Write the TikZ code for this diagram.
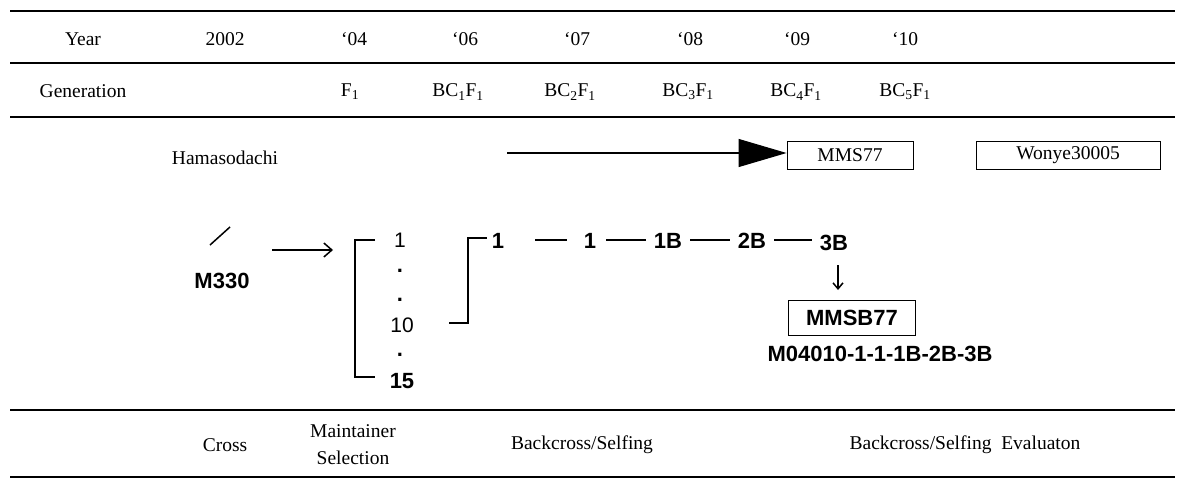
\documentclass[tikz,border=0pt]{standalone}
\usepackage{fontspec}
\setmainfont{Liberation Serif}
\setsansfont{Liberation Sans}
\usetikzlibrary{arrows.meta}
\begin{document}
\begin{tikzpicture}[x=1pt,y=-1pt,
  rule/.style={line width=1.3pt},
  serif/.style={font=\fontsize{19.5}{22}\selectfont, inner sep=0pt},
  sansb/.style={font=\sffamily\bfseries\fontsize{22}{24}\selectfont, inner sep=0pt},
  sansr/.style={font=\sffamily\fontsize{21}{24}\selectfont, inner sep=0pt},
  conn/.style={line width=1.6pt},
  lbox/.style={draw, line width=0.9pt, minimum height=28pt}]
\useasboundingbox (0,0) rectangle (1195,479);
% table rules
\draw[rule] (10,11) -- (1175,11);
\draw[rule] (10,63) -- (1175,63);
\draw[rule] (10,117) -- (1175,117);
\draw[rule] (10,410) -- (1175,410);
\draw[rule] (10,477) -- (1175,477);
% Year row
\node[serif] (yr) at (83,39) {Year};
\node[serif] (y02) at (225,39) {2002};
\node[serif] (y04) at (354,39) {`04};
\node[serif] (y06) at (465,39) {`06};
\node[serif] (y07) at (577,39) {`07};
\node[serif] (y08) at (690,39) {`08};
\node[serif] (y09) at (797,39) {`09};
\node[serif] (y10) at (905,39) {`10};
% Generation row
\node[serif] (gen) at (83,91) {Generation};
\node[serif] (g1) at (350,92) {F\textsubscript{1}};
\node[serif] (g2) at (458,92) {BC\textsubscript{1}F\textsubscript{1}};
\node[serif] (g3) at (570,92) {BC\textsubscript{2}F\textsubscript{1}};
\node[serif] (g4) at (688,92) {BC\textsubscript{3}F\textsubscript{1}};
\node[serif] (g5) at (796,92) {BC\textsubscript{4}F\textsubscript{1}};
\node[serif] (g6) at (905,92) {BC\textsubscript{5}F\textsubscript{1}};
% Hamasodachi line
\node[serif] (ham) at (225,158) {Hamasodachi};
\coordinate (arrS) at (507,153);
\node[serif, lbox, minimum width=126pt] (mms) at (850,155) {MMS77};
\node[serif, lbox, minimum width=184pt] (won) at (1068,155) {Wonye30005};
\draw[line width=1.1pt, -{Triangle[length=48pt,width=28pt]}] (arrS) -- (mms.west |- arrS);
% M330 cross
\coordinate (sl1) at (210,245);
\coordinate (sl2) at (230,227);
\draw[line width=1.5pt] (sl1) -- (sl2);
\node[sansb] (m330) at (222,281) {M330};
\coordinate (a1) at (272,250);
\coordinate (a2) at (333,250);
\draw[line width=1.5pt, -{Straight Barb[length=8pt,width=14pt,line width=1.5pt]}] (a1) -- (a2);
% bracket list
\node[sansr] (n1) at (400,240) {1};
\node[sansb, anchor=base] (d1) at (400,272) {.};
\node[sansb, anchor=base] (d2) at (400,301) {.};
\node[sansr] (n10) at (402,325) {10};
\node[sansb, anchor=base] (d3) at (400,356) {.};
\node[sansb] (n15) at (402,381) {15};
\coordinate (bt) at (375,240);
\coordinate (bb) at (375,377);
\draw[conn] (bt) -- (355,240) -- (355,377) -- (bb);
% second bracket
\node[sansb] (s1) at (498,241) {1};
\coordinate (b2a) at (449,323);
\coordinate (b2b) at (487,238);
\draw[conn] (b2a) -- (468,323) -- (468,238) -- (b2b);
\node[sansb] (s2) at (590,241) {1};
\node[sansb] (s3) at (668,241) {1B};
\node[sansb] (s4) at (752,241) {2B};
\node[sansb] (s5) at (834,243) {3B};
\coordinate (c1) at (535,240);
\coordinate (c2) at (567,240);
\draw[conn] (c1) -- (c2);
\draw[conn] ([xshift=10pt]s2.east |- 608,240) -- ([xshift=-8pt]s3.west |- 608,240);
\draw[conn] ([xshift=8pt]s3.east |- 694,240) -- ([xshift=-8pt]s4.west |- 694,240);
\draw[conn] ([xshift=8pt]s4.east |- 776,240) -- ([xshift=-8pt]s5.west |- 776,240);
% result
\node[sansb, draw, line width=0.9pt, minimum width=127pt, minimum height=35pt] (mmsb) at (852,318) {MMSB77};
\coordinate (dA) at (838,265);
\coordinate (dB) at (838,290);
\draw[line width=1.5pt, -{Straight Barb[length=6pt,width=10pt,line width=1.5pt]}] (dA) -- (dB);
\node[sansb] (code) at (880,354) {M04010-1-1-1B-2B-3B};
% bottom row
\node[serif] (cross) at (225,445) {Cross};
\node[serif, align=center, font=\fontsize{19.5}{27}\selectfont] (maint) at (353,445) {Maintainer\\Selection};
\node[serif] (bs1) at (582,445) {Backcross/Selfing};
\node[serif] (bs2) at (965,445) {Backcross/Selfing\ \ Evaluaton};
\end{tikzpicture}
\end{document}
